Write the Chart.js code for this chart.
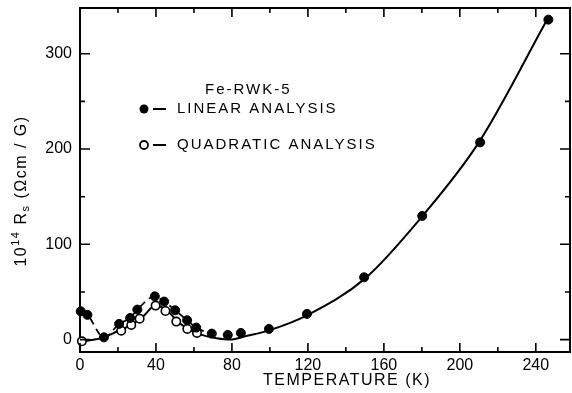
<!DOCTYPE html>
<html>
<head>
<meta charset="utf-8">
<script src="https://cdn.jsdelivr.net/npm/chart.js@4.4.0/dist/chart.umd.min.js"></script>
<style>
  html, body { margin: 0; padding: 0; background: #fff; }
</style>
</head>
<body>
<canvas id="chart" width="572" height="393"></canvas>
<script>
// data (T in K, 10^14 Rs in Ohm cm/G)
const linearT = [0.4, 3.9, 12.6, 20.6, 26.4, 30.2, 39.4, 44.3, 50.1, 56.4, 61.2, 69.4, 77.8, 84.7, 99.5, 119.5, 149.6, 180.2, 210.7, 246.6];
const linearR = [29.7, 26, 2.4, 16.5, 22.7, 31.5, 45.4, 39.9, 30.8, 20.3, 12.6, 6.3, 4.9, 7.0, 11.2, 27, 65.4, 129.8, 207, 335.8];

const quadT = [1, 21.7, 27, 31.4, 39.8, 45, 50.7, 56.5, 61.6];
const quadR = [-1.8, 9.4, 15.4, 22, 35.7, 30, 18.9, 11.2, 7.0];

// hand-drawn curves
const solidT = [1, 6, 12, 20, 27, 33, 40, 46, 52, 58, 64, 72, 79, 88, 100, 120, 150, 180, 210, 246];
const solidR = [-1.8, -0.5, 2, 9, 15.5, 24, 36, 30, 18, 10, 5, 1.5, 0, 4, 10, 26, 64, 129, 207, 336];

const dashT = [0.4, 3.9, 12.6, 20.6, 26.4, 30.2, 39.4, 44.3, 50.1, 56.4, 61.2, 66];
const dashR = [29.7, 26, 2.4, 16.5, 22.7, 31.5, 45.4, 39.9, 30.8, 20.3, 12.6, 8];

const xTicks = [0, 40, 80, 120, 160, 200, 240];
const xMinor = [20, 60, 100, 140, 180, 220];
const yTicks = [0, 100, 200, 300];
const yMinor = [50, 150, 250];

const FONT = '"Liberation Sans", Arial, sans-serif';

function pts(xs, ys) {
    return xs.map(function(x, i) { return { x: x, y: ys[i] }; });
}

// frame + inward ticks on all four sides
const framePlugin = {
    id: 'frame',
    afterDraw: function(chart) {
        const ctx = chart.ctx;
        const a = chart.chartArea;
        const xs = chart.scales.x;
        const ys = chart.scales.y;
        ctx.save();
        ctx.strokeStyle = '#000';
        ctx.lineWidth = 2;
        ctx.beginPath();
        ctx.moveTo(a.left - 1, a.top);
        ctx.lineTo(a.right, a.top);
        ctx.lineTo(a.right, a.bottom + 1);
        ctx.stroke();

        ctx.lineWidth = 1.6;
        ctx.beginPath();
        xTicks.concat(xMinor).forEach(function(v) {
            const len = xTicks.includes(v) ? 9 : 5;
            const px = xs.getPixelForValue(v);
            ctx.moveTo(px, a.bottom); ctx.lineTo(px, a.bottom - len);
            ctx.moveTo(px, a.top); ctx.lineTo(px, a.top + len);
        });
        yTicks.concat(yMinor).forEach(function(v) {
            const len = yTicks.includes(v) ? 10 : 5;
            const py = ys.getPixelForValue(v);
            ctx.moveTo(a.left, py); ctx.lineTo(a.left + len, py);
            ctx.moveTo(a.right, py); ctx.lineTo(a.right - len, py);
        });
        ctx.stroke();
        ctx.restore();
    }
};

// titles and in-plot legend
const textPlugin = {
    id: 'texts',
    afterDraw: function(chart) {
        const ctx = chart.ctx;
        ctx.save();
        ctx.fillStyle = '#000';
        ctx.strokeStyle = '#000';
        ctx.textBaseline = 'middle';
        ctx.letterSpacing = '1.5px';

        // x title
        ctx.font = '16px ' + FONT;
        ctx.textAlign = 'center';
        ctx.fillText('TEMPERATURE (K)', 347, 381);

        // y title with super/subscript
        ctx.translate(22, 191);
        ctx.rotate(-Math.PI / 2);
        ctx.textAlign = 'left';
        const parts = [
            ['10', 16, 0], ['14', 11, -6], [' R', 16, 0], ['s', 11, 4], [' (\u03A9cm / G)', 16, 0]
        ];
        let total = 0;
        parts.forEach(function(p) { ctx.font = p[1] + 'px ' + FONT; total += ctx.measureText(p[0]).width; });
        let cx = -total / 2;
        parts.forEach(function(p) {
            ctx.font = p[1] + 'px ' + FONT;
            ctx.fillText(p[0], cx, p[2]);
            cx += ctx.measureText(p[0]).width;
        });
        ctx.setTransform(1, 0, 0, 1, 0, 0);

        // legend block
        ctx.letterSpacing = '2px';
        ctx.font = '15px ' + FONT;
        ctx.textAlign = 'left';
        ctx.fillText('Fe-RWK-5', 205, 90);
        ctx.fillText('LINEAR ANALYSIS', 177, 109);
        ctx.fillText('QUADRATIC ANALYSIS', 177, 145);

        ctx.lineWidth = 1.8;
        ctx.beginPath();
        ctx.arc(144, 109, 4.5, 0, Math.PI * 2);
        ctx.fill();
        ctx.beginPath();
        ctx.arc(144, 145, 4, 0, Math.PI * 2);
        ctx.fillStyle = '#fff';
        ctx.fill();
        ctx.stroke();
        ctx.beginPath();
        ctx.moveTo(153, 109); ctx.lineTo(166, 109);
        ctx.moveTo(153, 145); ctx.lineTo(166, 145);
        ctx.stroke();
        ctx.restore();
    }
};

new Chart(document.getElementById('chart').getContext('2d'), {
    type: 'scatter',
    data: {
        datasets: [
            {
                label: 'Linear analysis',
                data: pts(linearT, linearR),
                backgroundColor: '#000',
                borderColor: '#000',
                pointRadius: 4.5,
                pointBorderWidth: 1,
                order: 0
            },
            {
                label: 'Quadratic analysis',
                data: pts(quadT, quadR),
                backgroundColor: '#fff',
                borderColor: '#000',
                pointRadius: 4.2,
                pointBorderWidth: 1.6,
                order: 0
            },
            {
                label: 'fit',
                data: pts(solidT, solidR),
                showLine: true,
                borderColor: '#000',
                borderWidth: 2,
                pointRadius: 0,
                cubicInterpolationMode: 'monotone',
                order: 1
            },
            {
                label: 'linear fit',
                data: pts(dashT, dashR),
                showLine: true,
                borderColor: '#000',
                borderWidth: 1.8,
                borderDash: [7, 5],
                pointRadius: 0,
                cubicInterpolationMode: 'monotone',
                order: 1
            }
        ]
    },
    options: {
        responsive: false,
        animation: false,
        devicePixelRatio: 1,
        clip: false,
        layout: { autoPadding: false, padding: { left: 0, right: 2, top: 8, bottom: 0 } },
        plugins: {
            legend: { display: false },
            tooltip: { enabled: false }
        },
        scales: {
            x: {
                type: 'linear',
                min: 0,
                max: 258,
                afterBuildTicks: function(scale) { scale.ticks = xTicks.map(function(v) { return { value: v }; }); },
                afterFit: function(scale) {
                    scale.height = 41;
                    scale.paddingLeft = 0;
                    scale.paddingRight = 0;
                },
                ticks: { color: '#000', font: { family: FONT, size: 16 }, padding: 4, maxRotation: 0 },
                grid: { drawOnChartArea: false, drawTicks: false },
                border: { color: '#000', width: 2 }
            },
            y: {
                type: 'linear',
                min: -13,
                max: 348,
                afterBuildTicks: function(scale) { scale.ticks = yTicks.map(function(v) { return { value: v }; }); },
                afterFit: function(scale) {
                    scale.width = 80;
                    scale.paddingTop = 0;
                    scale.paddingBottom = 0;
                },
                ticks: { color: '#000', font: { family: FONT, size: 16 }, padding: 8 },
                grid: { drawOnChartArea: false, drawTicks: false },
                border: { color: '#000', width: 2 }
            }
        }
    },
    plugins: [framePlugin, textPlugin]
});
</script>
</body>
</html>
